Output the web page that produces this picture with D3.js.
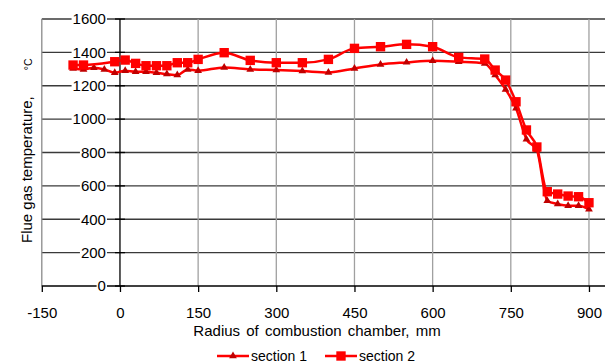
<!DOCTYPE html>
<html>
<head>
<meta charset="utf-8">
<script src="https://cdn.jsdelivr.net/npm/d3@7"></script>
<style>
  body { margin: 0; background: #fff; }
  text { font-family: 'Liberation Sans', Arial, sans-serif; fill: #000; }
</style>
</head>
<body>
<div id="chart"></div>
<script>
'use strict'

// Data
const xSection1 = [-90, -70, -50, -30, -10, 10, 30, 50, 70, 90, 110, 130, 150, 200, 250, 300, 350, 400, 450, 500, 550, 600, 650, 700, 720, 740, 760, 780, 800, 820, 840, 860, 880, 900]
const ySection1 = [1304, 1298, 1308, 1298, 1278, 1290, 1284, 1284, 1278, 1270, 1264, 1298, 1290, 1310, 1298, 1294, 1288, 1280, 1304, 1328, 1340, 1350, 1344, 1334, 1264, 1178, 1065, 880, 815, 511, 491, 481, 481, 460]

const xSection2 = [-90, -70, -10, 10, 30, 50, 70, 90, 110, 130, 150, 200, 250, 300, 350, 400, 450, 500, 550, 600, 650, 700, 720, 740, 760, 780, 800, 820, 840, 860, 880, 900]
const ySection2 = [1324, 1324, 1344, 1354, 1334, 1320, 1320, 1320, 1338, 1338, 1358, 1398, 1352, 1338, 1338, 1358, 1424, 1434, 1448, 1434, 1370, 1360, 1294, 1234, 1104, 935, 833, 565, 551, 539, 535, 499]

const xTicks = [-150, 0, 150, 300, 450, 600, 750, 900]
const yTicks = [0, 200, 400, 600, 800, 1000, 1200, 1400, 1600]

const seriesNames = ['section 1', 'section 2']

function draw() {
  const width = 605
  const height = 364

  const svg = d3
    .select('#chart')
    .append('svg')
    .attr('width', width)
    .attr('height', height)

  // Scales
  const xScale = d3.scaleLinear().domain([-150, 930]).range([41.8, 604.6])
  const yScale = d3.scaleLinear().domain([0, 1600]).range([286, 19])

  const x0 = xScale(-150)

  // Horizontal gridlines
  svg
    .append('g')
    .selectAll('line')
    .data(yTicks.filter((d) => d > 0))
    .join('line')
    .attr('x1', x0)
    .attr('x2', width)
    .attr('y1', (d) => yScale(d))
    .attr('y2', (d) => yScale(d))
    .attr('stroke', '#3a3a3a')
    .attr('stroke-width', 1.3)

  // Vertical gridlines
  svg
    .append('g')
    .selectAll('line')
    .data(xTicks.filter((d) => d !== 0))
    .join('line')
    .attr('x1', (d) => xScale(d))
    .attr('x2', (d) => xScale(d))
    .attr('y1', yScale(0))
    .attr('y2', yScale(1600))
    .attr('stroke', (d) => (d === -150 ? '#8a8a8a' : '#a0a0a0'))
    .attr('stroke-width', 1.3)

  // X axis
  const xAxis = d3
    .axisBottom(xScale)
    .tickValues(xTicks)
    .tickFormat((d) => String(d))
    .tickSize(6)
    .tickSizeOuter(0)
    .tickPadding(15)

  const xAxisGroup = svg
    .append('g')
    .attr('transform', `translate(0, ${yScale(0)})`)
    .call(xAxis)

  xAxisGroup.select('.domain').remove()
  xAxisGroup.selectAll('line').attr('stroke', '#000').attr('stroke-width', 1.3)
  xAxisGroup
    .selectAll('text')
    .attr('font-size', 15)
    .attr('font-family', "'Liberation Sans', Arial, sans-serif")
    .attr('fill', '#000')

  svg
    .append('line')
    .attr('x1', x0)
    .attr('x2', width)
    .attr('y1', yScale(0))
    .attr('y2', yScale(0))
    .attr('stroke', '#000')
    .attr('stroke-width', 1.3)

  // Y axis line at x = 0
  svg
    .append('line')
    .attr('x1', xScale(0))
    .attr('x2', xScale(0))
    .attr('y1', yScale(0))
    .attr('y2', yScale(1600))
    .attr('stroke', '#000')
    .attr('stroke-width', 1.3)

  svg
    .append('g')
    .selectAll('line')
    .data(yTicks)
    .join('line')
    .attr('x1', xScale(0) - 5)
    .attr('x2', xScale(0) + 5)
    .attr('y1', (d) => yScale(d))
    .attr('y2', (d) => yScale(d))
    .attr('stroke', '#000')
    .attr('stroke-width', 1.3)

  // Series
  const line = d3
    .line()
    .x((d) => xScale(d[0]))
    .y((d) => yScale(d[1]))
    .curve(d3.curveMonotoneX)

  const section1 = xSection1.map((d, i) => [d, ySection1[i]])
  const section2 = xSection2.map((d, i) => [d, ySection2[i]])

  const triangle = d3.symbol().type(d3.symbolTriangle).size(26)
  const square = d3.symbol().type(d3.symbolSquare).size(88)

  svg
    .append('path')
    .datum(section1)
    .attr('d', line)
    .attr('fill', 'none')
    .attr('stroke', '#ff0000')
    .attr('stroke-width', 2.5)

  svg
    .append('g')
    .selectAll('path')
    .data(section1)
    .join('path')
    .attr('d', triangle)
    .attr('transform', (d) => `translate(${xScale(d[0])}, ${yScale(d[1])})`)
    .attr('fill', '#c00000')

  svg
    .append('path')
    .datum(section2)
    .attr('d', line)
    .attr('fill', 'none')
    .attr('stroke', '#ff0000')
    .attr('stroke-width', 2.5)

  svg
    .append('g')
    .selectAll('path')
    .data(section2)
    .join('path')
    .attr('d', square)
    .attr('transform', (d) => `translate(${xScale(d[0])}, ${yScale(d[1])})`)
    .attr('fill', '#ff0000')

  // Y tick labels with white boxes, on top of the series
  const yLabels = svg
    .append('g')
    .selectAll('g')
    .data(yTicks)
    .join('g')
    .attr('transform', (d) => `translate(${xScale(0) - 14}, ${yScale(d)})`)

  yLabels
    .append('text')
    .attr('text-anchor', 'end')
    .attr('dy', '0.35em')
    .attr('font-size', 15)
    .text((d) => d)

  yLabels.each(function () {
    const g = d3.select(this)
    const box = g.select('text').node().getBBox()
    g.insert('rect', 'text')
      .attr('x', box.x - 1)
      .attr('y', box.y + 1)
      .attr('width', box.width + 2)
      .attr('height', box.height - 2)
      .attr('fill', '#fff')
  })

  // Axis titles
  svg
    .append('text')
    .attr('transform', 'translate(32, 243) rotate(-90)')
    .attr('font-size', 15)
    .text('Flue gas temperature,')
    .append('tspan')
    .attr('dx', 26)
    .attr('font-size', 10.5)
    .text('°C')

  svg
    .append('text')
    .attr('x', 317)
    .attr('y', 336)
    .attr('text-anchor', 'middle')
    .attr('font-size', 15)
    .attr('word-spacing', 2)
    .text('Radius of combustion chamber, mm')

  // Legend
  const legendItems = [
    { x: 217, marker: triangle, fill: '#c00000' },
    { x: 325, marker: square, fill: '#ff0000' },
  ]

  const legend = svg
    .append('g')
    .selectAll('g')
    .data(legendItems)
    .join('g')
    .attr('transform', (d) => `translate(${d.x}, 356)`)

  legend
    .append('line')
    .attr('x1', 0)
    .attr('x2', 32)
    .attr('stroke', '#ff0000')
    .attr('stroke-width', 2.5)

  legend
    .append('path')
    .attr('d', (d) => d.marker())
    .attr('transform', 'translate(16, 0)')
    .attr('fill', (d) => d.fill)

  legend
    .append('text')
    .attr('x', 34)
    .attr('y', 5)
    .attr('font-size', 14)
    .text((d, i) => seriesNames[i])
}

draw()
</script>
</body>
</html>
